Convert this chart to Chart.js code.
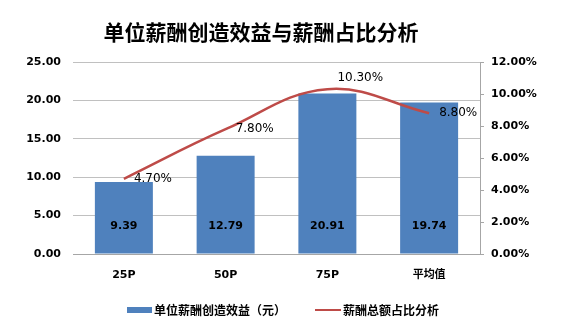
<!DOCTYPE html>
<html>
<head>
<meta charset="utf-8">
<script src="https://cdn.jsdelivr.net/npm/chart.js@4.4.1/dist/chart.umd.min.js"></script>
<style>
  html, body { margin: 0; padding: 0; background: #fff; }
  #wrap { position: relative; width: 565px; height: 326px; overflow: hidden; }
  #title { position: absolute; left: 0; top: 14px; width: 522px; text-align: center;
    font-family: 'Noto Sans CJK SC', sans-serif; font-weight: 700; font-size: 21px; line-height: 34px; color: #000; }
  .leg { position: absolute; top: 300px; height: 19px; line-height: 19px; font-family: 'Noto Sans CJK SC', sans-serif;
    font-weight: 700; font-size: 12px; color: #000; white-space: nowrap; }
  .sw { position: absolute; }
</style>
</head>
<body>
<div id="wrap">
  <canvas id="c" width="565" height="326"></canvas>
  <div id="title">单位薪酬创造效益与薪酬占比分析</div>
  <div class="sw" style="left:127px; top:307px; width:25px; height:6px; background:#4f81bd;"></div>
  <div class="leg" style="left:154px;">单位薪酬创造效益（元）</div>
  <div class="sw" style="left:315px; top:309px; width:26px; height:2px; background:#be4b48;"></div>
  <div class="leg" style="left:343px;">薪酬总额占比分析</div>
</div>
<script>
const categories = ['25P', '50P', '75P', '平均值'];
const benefitValues = [9.39, 12.79, 20.91, 19.74];
const payShareValues = [4.7, 7.8, 10.3, 8.8];
const leftTicks = [0, 5, 10, 15, 20, 25];
const rightTicks = [0, 2, 4, 6, 8, 10, 12];
const seriesNames = ['单位薪酬创造效益（元）', '薪酬总额占比分析'];

const FONT = "'DejaVu Sans', 'Noto Sans CJK SC', sans-serif";
const linePlacement = ['right', 'right', 'aboveRight', 'right'];

const labelPlugin = {
  id: 'valueLabels',
  afterDatasetsDraw(chart) {
    const ctx = chart.ctx;
    ctx.save();
    const barMeta = chart.getDatasetMeta(0);
    ctx.font = 'bold 11px ' + FONT;
    ctx.fillStyle = '#000';
    ctx.textAlign = 'center';
    ctx.textBaseline = 'middle';
    barMeta.data.forEach((el, i) => {
      ctx.fillText(benefitValues[i].toFixed(2), el.x, el.base - 27);
    });
    const lineMeta = chart.getDatasetMeta(1);
    ctx.font = '12px ' + FONT;
    ctx.textAlign = 'left';
    lineMeta.data.forEach((el, i) => {
      const dy = linePlacement[i] === 'aboveRight' ? -11 : 0;
      ctx.fillText(payShareValues[i].toFixed(2) + '%', el.x + 10, el.y + dy);
    });
    ctx.restore();
  }
};

new Chart(document.getElementById('c'), {
  data: {
    labels: categories,
    datasets: [
      {
        type: 'bar', label: seriesNames[0], data: benefitValues, yAxisID: 'y',
        backgroundColor: '#4f81bd', categoryPercentage: 1, barPercentage: 0.57, order: 2
      },
      {
        type: 'line', label: seriesNames[1], data: payShareValues, yAxisID: 'y1',
        borderColor: '#be4b48', borderWidth: 2.5, tension: 0.4, pointRadius: 0,
        fill: false, order: 1
      }
    ]
  },
  options: {
    responsive: false,
    animation: false,
    layout: { padding: { top: 62, left: 0, right: 0, bottom: 0 } },
    plugins: { legend: { display: false }, title: { display: false }, tooltip: { enabled: false } },
    scales: {
      x: {
        grid: { display: false, drawTicks: false },
        border: { display: true, color: '#a6a6a6', width: 1 },
        ticks: { font: { family: FONT, size: 11, weight: 'bold' }, color: '#000', padding: 15 },
        afterFit(s) { s.height = 72; }
      },
      y: {
        position: 'left', min: 0, max: 25,
        afterBuildTicks(s) { s.ticks = leftTicks.map(v => ({ value: v })); },
        grid: { color: '#c0c0c0', drawTicks: false },
        border: { display: false },
        ticks: { font: { family: FONT, size: 11, weight: 'bold' }, color: '#000', padding: 12,
          callback: v => Number(v).toFixed(2) },
        afterFit(s) { s.width = 73; }
      },
      y1: {
        position: 'right', min: 0, max: 12,
        afterBuildTicks(s) { s.ticks = rightTicks.map(v => ({ value: v })); },
        grid: { drawOnChartArea: false, drawTicks: true, tickLength: 4, color: '#a6a6a6' },
        border: { display: true, color: '#a6a6a6' },
        ticks: { font: { family: FONT, size: 11, weight: 'bold' }, color: '#000', padding: 7,
          callback: v => Number(v).toFixed(2) + '%' },
        afterFit(s) { s.width = 85; }
      }
    }
  },
  plugins: [labelPlugin]
});
</script>
</body>
</html>
